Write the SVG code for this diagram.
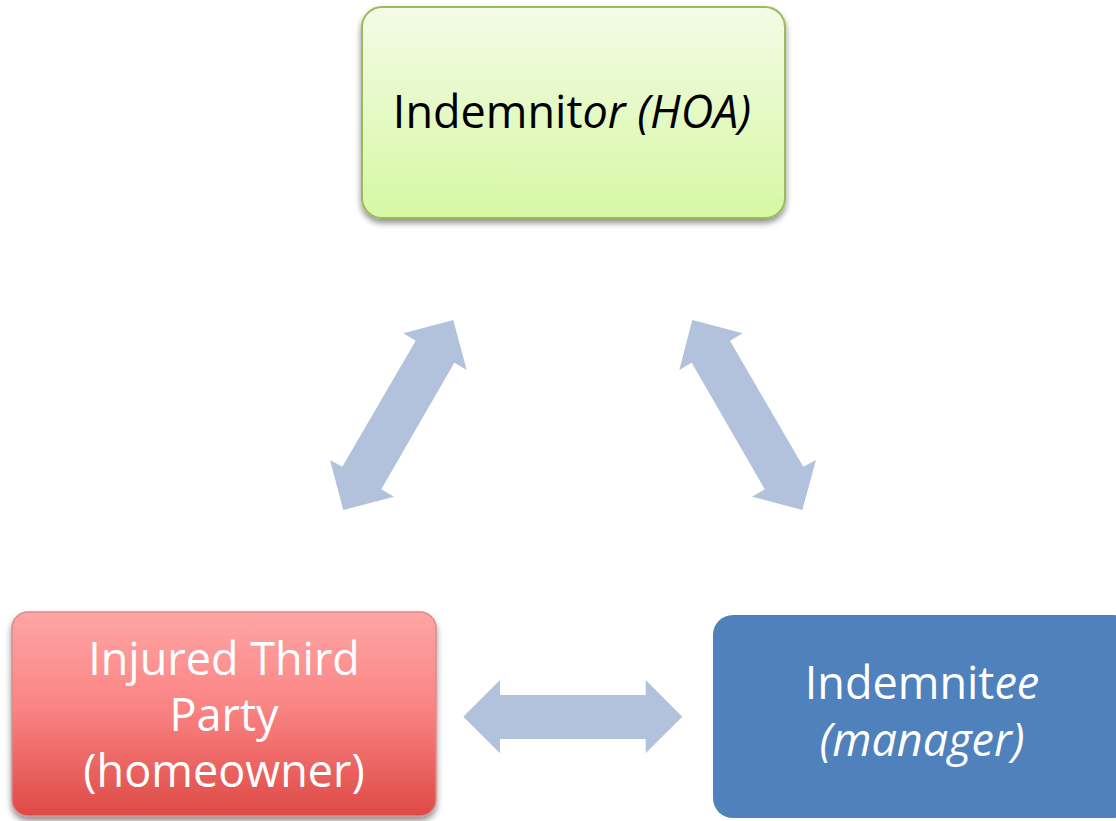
<svg xmlns="http://www.w3.org/2000/svg" width="1116" height="821" viewBox="0 0 1116 821">
  <style>
    .label { font-family: "Open Sans", "Liberation Sans", sans-serif; font-size: 45px; text-anchor: middle; }
    .dark { fill: #000000; }
    .light { fill: #ffffff; }
    .it { font-style: italic; }
    .link { fill: #b2c2dd; }
  </style>
  <defs>
    <linearGradient id="gGreen" x1="0" y1="0" x2="0" y2="1">
      <stop offset="0" stop-color="#f3fbe6"/>
      <stop offset="1" stop-color="#d6f8a3"/>
    </linearGradient>
    <linearGradient id="gRed" x1="0" y1="0" x2="0" y2="1">
      <stop offset="0" stop-color="#ffa5a5"/>
      <stop offset="0.45" stop-color="#fb8585"/>
      <stop offset="1" stop-color="#de4a46"/>
    </linearGradient>
    <filter id="shadow" x="-10%" y="-10%" width="120%" height="130%">
      <feGaussianBlur in="SourceAlpha" stdDeviation="3"/>
      <feOffset dx="0" dy="4" result="b"/>
      <feComponentTransfer><feFuncA type="linear" slope="0.45"/></feComponentTransfer>
      <feMerge><feMergeNode/><feMergeNode in="SourceGraphic"/></feMerge>
    </filter>
  </defs>

  <rect width="1116" height="821" fill="#ffffff"/>

  <g id="connectors">
    <!-- indemnitor <-> injured third party -->
    <polygon class="link" points="453.3,320 466.7,370 454.3,362.7 381.3,489.3 394,496.7 343.3,510 330,460 342.3,466.7 415.7,340.7 403.3,333.3"/>
    <!-- indemnitor <-> indemnitee -->
    <polygon class="link" points="692.3,320 742.7,333.3 730,340.7 803.3,466.7 816,460 802.3,510 752,496.7 764.7,489.3 691.7,362.7 679.3,370"/>
    <!-- injured third party <-> indemnitee -->
    <polygon class="link" points="463.3,716.7 500,680 500,695 645.7,695 645.7,680 682.3,716.7 645.7,753.3 645.7,739 500,739 500,753.3"/>
  </g>

  <g id="indemnitor">
    <rect x="362" y="7" width="423" height="211" rx="20" ry="20" fill="url(#gGreen)" stroke="#9bbb59" stroke-width="2" filter="url(#shadow)"/>
    <text class="label dark" x="572" y="128">Indemnit<tspan class="it">or (HOA)</tspan></text>
  </g>

  <g id="injured-third-party">
    <rect x="12" y="612" width="424" height="204" rx="16" ry="16" fill="url(#gRed)" stroke="#d98c8a" stroke-width="1.5" filter="url(#shadow)"/>
    <text class="label light" x="224" y="675">Injured Third</text>
    <text class="label light" x="224" y="731">Party</text>
    <text class="label light" x="224" y="787">(homeowner)</text>
  </g>

  <g id="indemnitee">
    <rect x="713" y="615" width="420" height="203" rx="20" ry="20" fill="#4f81bd"/>
    <text class="label light" x="922" y="699">Indemnit<tspan class="it">ee</tspan></text>
    <text class="label light it" x="922" y="756">(manager)</text>
  </g>
</svg>
